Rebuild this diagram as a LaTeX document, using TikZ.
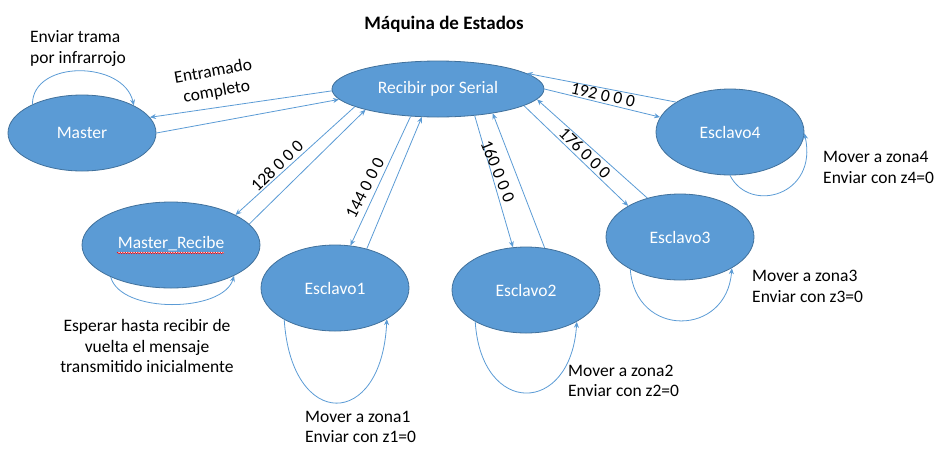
\documentclass[tikz,border=0pt]{standalone}
\usepackage{fontspec}
\setmainfont{Carlito}
\usetikzlibrary{shapes.geometric,arrows.meta,decorations.pathmorphing}
\definecolor{azul}{RGB}{91,155,213}
\definecolor{borde}{RGB}{65,113,156}
\tikzset{
	estado/.style={ellipse, draw=borde, fill=azul, text=white, inner sep=0pt, line width=0.8pt, font=\fontsize{17.5}{20.5}\selectfont},
	flecha/.style={draw=azul, line width=0.8pt, -{Stealth[length=6pt,width=5pt]}},
	texto/.style={inner sep=0pt, font=\fontsize{17.5}{20.5}\selectfont}
}
\begin{document}
\begin{tikzpicture}[x=1pt,y=-1pt]
			\useasboundingbox (0,0) rectangle (939,472);
			% Nodes
			\node[font=\fontsize{19}{22}\selectfont\bfseries, inner sep=0pt] (titulo) at (444,24) {Máquina de Estados};
			\node[estado, minimum width=212pt, minimum height=56pt] (serial) at (438,89) {Recibir por Serial};
			\node[estado, minimum width=148pt, minimum height=76pt] (master) at (82,133) {Master};
			\node[estado, minimum width=178pt, minimum height=86pt] (mrecibe) at (171,245) {\underline{Master\_Recibe}};
			\foreach \i/\x/\y in {1/335/288, 2/526/290, 3/680/237, 4/730/132} {
				\node[estado, minimum width=148pt, minimum height=86pt] (esclavo\i) at (\x,\y) {Esclavo\i};
			}
			\draw[red, line width=0.5pt, decorate, decoration={snake, amplitude=0.7pt, segment length=2.5pt}] (117,253) -- (224,253);
			% Edges
			\draw[flecha] (serial.181) -- (master.13);
			\draw[flecha] (master.0) -- (serial.186);
			\draw[flecha] (serial.192) -- (mrecibe.25);
			\draw[flecha] (mrecibe.15) -- (serial.196);
			\draw[flecha] (serial.225) -- (esclavo1.70);
			\draw[flecha] (esclavo1.51) -- (serial.240);
			\draw[flecha] (serial.324) -- (esclavo2.107);
			\draw[flecha] (esclavo2.66) -- (serial.336);
			\draw[flecha] (serial.349) -- (esclavo3.149);
			\draw[flecha] (esclavo3.130) -- (serial.354);
			\draw[flecha] (serial.0) -- (esclavo4.168);
			\draw[flecha] (esclavo4.151) -- (serial.10);
			% Loops
			\draw[flecha] (master.150) .. controls +(0,-45) and +(-10,-45) .. (master.28);
			\draw[flecha] (mrecibe.208) .. controls +(10,37) and +(-11,37) .. (mrecibe.334);
			\draw[flecha] (esclavo1.212) .. controls +(7,111) and +(-5,111) .. (esclavo1.329);
			\draw[flecha] (esclavo2.212) .. controls +(6,95) and +(-6,94) .. (esclavo2.328);
			\draw[flecha] (esclavo3.213) .. controls +(5,69) and +(-5,69) .. (esclavo3.329);
			\draw[flecha] (esclavo4.270) .. controls +(20,39) and +(14,62) .. (esclavo4.359);
			% Labels
			\node[texto, rotate=10, align=center] (lentramado) at (215,82) {Entramado\\completo};
			\node[texto, rotate=44] (l128) at (277,166) {128 0 0 0};
			\node[texto, rotate=63] (l144) at (365,188) {144 0 0 0};
			\node[texto, rotate=-68] (l160) at (498,171) {160 0 0 0};
			\node[texto, rotate=-45] (l176) at (585,153) {176 0 0 0};
			\node[texto, rotate=-13] (l192) at (603,95) {192 0 0 0};
			\node[texto, anchor=west, align=left] (lmaster) at (30,48.5) {Enviar trama\\por infrarrojo};
			\node[texto, align=center] (lmrecibe) at (147,346) {Esperar hasta recibir de\\vuelta el mensaje\\transmitido inicialmente};
			\node[texto, anchor=west, align=left] (lzona1) at (305,427) {Mover a zona1\\Enviar con z1=0};
			\node[texto, anchor=west, align=left] (lzona2) at (568,381) {Mover a zona2\\Enviar con z2=0};
			\node[texto, anchor=west, align=left] (lzona3) at (752,286.5) {Mover a zona3\\Enviar con z3=0};
			\node[texto, anchor=west, align=left] (lzona4) at (823,167.5) {Mover a zona4\\Enviar con z4=0};
		\end{tikzpicture}
\end{document}
